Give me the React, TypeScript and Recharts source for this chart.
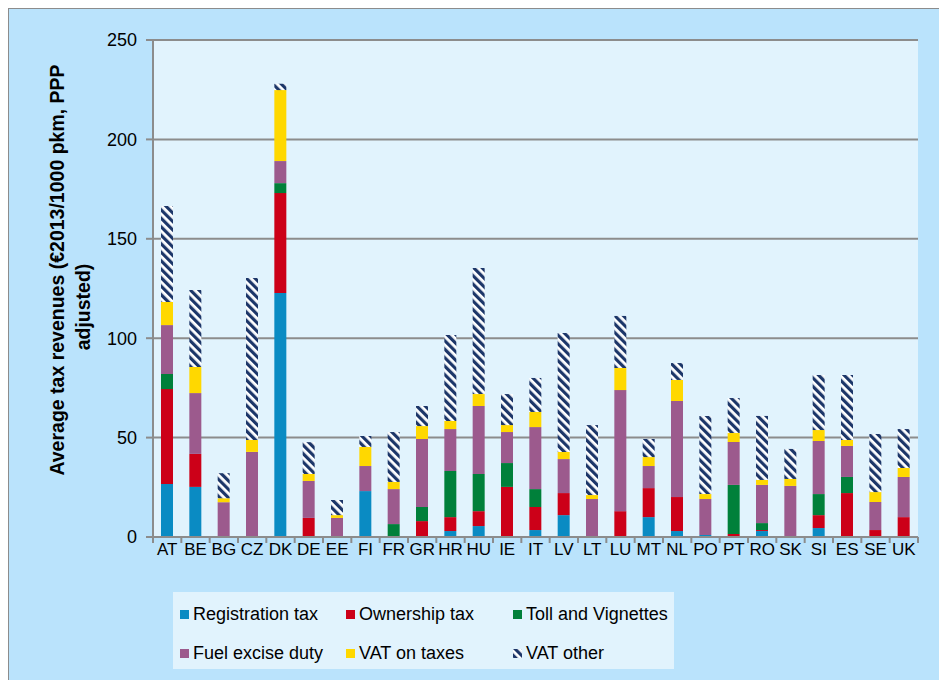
import React from "react";
import { BarChart, Bar, XAxis, YAxis, CartesianGrid, Legend } from "recharts";

const countries = ["AT", "BE", "BG", "CZ", "DK", "DE", "EE", "FI", "FR", "GR", "HR", "HU", "IE", "IT", "LV", "LT", "LU", "MT", "NL", "PO", "PT", "RO", "SK", "SI", "ES", "SE", "UK"];

const registrationTax = [26.7, 25.2, 0, 0, 122.7, 0, 0, 23.1, 0, 0, 3, 5.5, 0, 3.5, 11, 0, 0, 10, 3, 1, 0, 3, 0, 4.5, 0, 0, 0];
const ownershipTax = [47.7, 16.6, 0.5, 0, 50.3, 9.6, 0, 0, 0, 8, 7, 7.5, 25.2, 11.6, 11.1, 0, 13, 14.6, 17.1, 0, 1.5, 0.5, 0, 6.5, 22.1, 3.5, 10];
const tollVignettes = [7.6, 0, 0, 0, 5, 0, 0, 0, 6.5, 7.1, 23.2, 18.7, 12, 9, 0, 0, 0, 0, 0, 0, 24.7, 3.5, 0, 10.6, 8.1, 0, 0];
const fuelExcise = [24.6, 30.6, 17, 42.8, 11.1, 18.6, 9.6, 12.6, 17.6, 34.2, 21.1, 34.2, 15.6, 31.2, 17.1, 19.1, 60.9, 11.1, 48.3, 18.1, 21.6, 19.2, 25.7, 26.7, 15.6, 14.1, 20.2];
const vatOnTaxes = [11.6, 13.1, 2, 6, 35.7, 3.5, 1.4, 9.6, 3.6, 6.5, 4.1, 6, 3.5, 7.6, 3.6, 2, 11.1, 4.5, 10.6, 2.5, 4.5, 2.5, 3.5, 5.5, 3, 5, 4.5];
const vatOther = [48.3, 38.7, 12.6, 81.5, 3.2, 16, 7.6, 5.5, 25.1, 10.1, 43.2, 63.4, 15.6, 17.1, 59.8, 35.2, 26.2, 9.1, 8.5, 39.3, 17.6, 32.2, 15.1, 27.7, 32.7, 29.2, 19.6];

const yTicks = [0, 50, 100, 150, 200, 250];

const series = [
  { key: "reg", name: "Registration tax", values: registrationTax, fill: "#0a8bc3" },
  { key: "own", name: "Ownership tax", values: ownershipTax, fill: "#cc0018" },
  { key: "toll", name: "Toll and Vignettes", values: tollVignettes, fill: "#00803a" },
  { key: "fuel", name: "Fuel excise duty", values: fuelExcise, fill: "#9c5a8d" },
  { key: "vatTax", name: "VAT on taxes", values: vatOnTaxes, fill: "#ffd800" },
  { key: "vatOther", name: "VAT other", values: vatOther, fill: "url(#vatStripes)" },
];

const data = countries.map((c, i) => {
  const row: any = { country: c };
  series.forEach((s) => (row[s.key] = s.values[i]));
  return row;
});

const W = 930;
const H = 671;
const MARGIN = { top: 31, right: 21, bottom: 113, left: 0 };
const STEP = (W - MARGIN.right - 144) / countries.length;

const FONT = "'Liberation Sans', Arial, sans-serif";

function CountryTick(props: any) {
  const { x, y, payload, index } = props;
  const axisY = y - 6;
  const left = x - STEP / 2;
  const right = x + STEP / 2;
  return (
    <g>
      <line x1={left} y1={axisY} x2={left} y2={axisY + 6} stroke="#8c8c8c" strokeWidth={2} />
      {index === countries.length - 1 && (
        <line x1={right} y1={axisY} x2={right} y2={axisY + 6} stroke="#8c8c8c" strokeWidth={2} />
      )}
      <text x={x} y={axisY + 18} textAnchor="middle" fontSize={17} fill="#000" fontFamily={FONT}>
        {payload.value}
      </text>
    </g>
  );
}

function YTitle(props: any) {
  const vb = props.viewBox || { x: 0 };
  const x1 = vb.x + 48;
  const x2 = vb.x + 74;
  return (
    <g fontFamily={FONT} fontWeight="bold" fontSize={19.5} fill="#000">
      <text x={x1} y={261} textAnchor="middle" dominantBaseline="central" transform={`rotate(-90 ${x1} 261)`}>
        Average tax revenues (€2013/1000 pkm, PPP
      </text>
      <text x={x2} y={298} textAnchor="middle" dominantBaseline="central" transform={`rotate(-90 ${x2} 298)`}>
        adjusted)
      </text>
    </g>
  );
}

function LegendBox() {
  return (
    <div
      style={{
        background: "#e1f3fd",
        width: 501,
        height: 77,
        boxSizing: "border-box",
        display: "grid",
        gridTemplateColumns: "166px 167px 168px",
        gridTemplateRows: "41px 36px",
        paddingTop: 2,
        fontFamily: FONT,
        fontSize: 18,
        color: "#000",
        whiteSpace: "nowrap",
      }}
    >
      {series.map((s) => (
        <div key={s.key} style={{ display: "flex", alignItems: "center", paddingLeft: 7 }}>
          <svg width={9} height={9} style={{ marginRight: 4, flexShrink: 0 }}>
            <rect width={9} height={9} fill={s.fill} />
          </svg>
          <span>{s.name}</span>
        </div>
      ))}
    </div>
  );
}

export default function App() {
  return (
    <div
      style={{
        position: "fixed",
        left: 8,
        top: 8,
        width: 931,
        height: 672,
        boxSizing: "border-box",
        background: "#bae3fc",
        borderTop: "1px solid #8c8c8c",
        borderLeft: "1px solid #8c8c8c",
        overflow: "hidden",
      }}
    >
      <svg width={0} height={0} style={{ position: "absolute" }}>
        <defs>
          <pattern id="vatStripes" patternUnits="userSpaceOnUse" width={6} height={6} patternTransform="rotate(-45)">
            <rect width={6} height={6} fill="#ffffff" />
            <rect width={3.2} height={6} fill="#1c3669" />
          </pattern>
        </defs>
      </svg>
      <BarChart width={W} height={H} data={data} margin={MARGIN} barSize={12}>
        <CartesianGrid vertical={false} fill="#e1f3fd" stroke="#8c8c8c" strokeWidth={2} />
        <XAxis
          dataKey="country"
          interval={0}
          height={30}
          tickSize={6}
          tickMargin={0}
          tickLine={false}
          axisLine={{ stroke: "#8c8c8c", strokeWidth: 2 }}
          tick={<CountryTick />}
        />
        <YAxis
          width={144}
          domain={[0, 250]}
          ticks={yTicks}
          tickSize={7}
          tickMargin={9}
          axisLine={{ stroke: "#8c8c8c", strokeWidth: 2 }}
          tickLine={{ stroke: "#8c8c8c", strokeWidth: 2 }}
          tick={{ fill: "#000", fontSize: 18, fontFamily: FONT }}
          label={{ content: (p: any) => <YTitle {...p} /> }}
        />
        <Legend
          layout="horizontal"
          verticalAlign="middle"
          align="center"
          wrapperStyle={{ left: 164, top: 583, width: 501, height: 77 }}
          content={() => <LegendBox />}
        />
        {series.map((s) => (
          <Bar key={s.key} dataKey={s.key} name={s.name} stackId="a" fill={s.fill} isAnimationActive={false} />
        ))}
      </BarChart>
    </div>
  );
}
